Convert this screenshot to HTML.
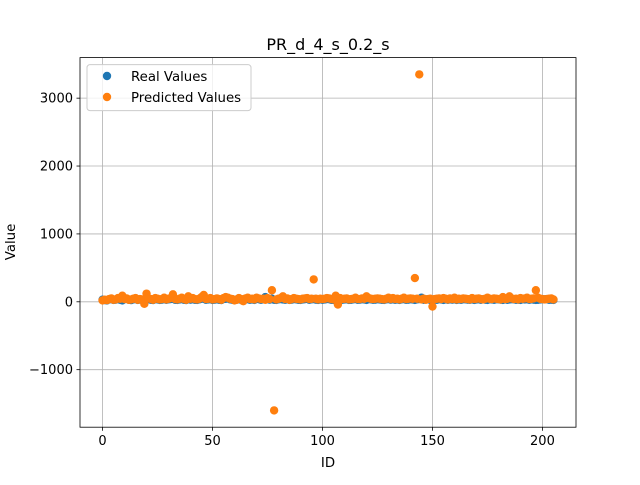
<!DOCTYPE html>
<html><head><meta charset="utf-8"><style>
body{margin:0;background:#fff;}
svg text{font-family:"DejaVu Sans","Liberation Sans",sans-serif;}
</style></head><body>
<svg id="chart" width="640" height="480" xmlns="http://www.w3.org/2000/svg">
<rect width="640" height="480" fill="#fff"/>
<g id="grid"></g>
<g id="real"></g>
<g id="pred"></g>
<rect x="80" y="57.6" width="496" height="369.6" fill="none" stroke="#000" stroke-width="0.8"/>
<g id="ticks"></g>
<text x="328" y="50" font-size="16" text-anchor="middle">PR_d_4_s_0.2_s</text>
<text x="328" y="467" font-size="13.3" text-anchor="middle">ID</text>
<text transform="translate(15,242) rotate(-90)" font-size="13.3" text-anchor="middle">Value</text>
<g>
<rect x="87" y="64.6" width="164" height="46" rx="3" fill="#fff" fill-opacity="0.8" stroke="#ccc"/>
<g><circle cx="107" cy="76" r="4.2" fill="#1f77b4"/><text x="131" y="81" font-size="13.3">Real Values</text></g>
<g><circle cx="107" cy="97" r="4.2" fill="#ff7f0e"/><text x="131" y="102" font-size="13.3">Predicted Values</text></g>
</g>
</svg>
<script>
const realValues=[30,25,20,35,40,28,32,45,30,20,38,42,30,25,36,40,28,33,30,22,45,38,30,26,40,35,28,32,44,30,36,40,50,30,28,34,42,30,26,38,32,40,30,28,36,44,48,30,34,40,28,32,38,30,26,40,45,50,36,30,28,32,38,30,24,36,40,30,34,28,42,38,30,36,70,40,32,45,30,28,36,40,34,30,38,28,32,40,36,30,28,34,38,42,30,36,40,32,28,36,30,34,40,38,30,28,36,32,40,30,34,38,28,30,36,42,30,32,38,34,28,40,36,30,32,38,34,30,28,36,40,32,38,30,34,28,36,40,30,32,38,34,28,36,40,60,30,34,38,28,32,36,30,40,34,28,38,30,36,32,40,28,34,30,38,36,32,30,40,28,34,38,30,36,32,28,40,34,30,38,36,32,28,40,30,34,38,36,30,32,28,40,34,38,30,36,32,28,30,34,38,36,40,30,32,28];
const predValues=[20,30,25,40,50,30,35,55,45,90,40,50,30,35,45,55,30,40,35,-30,120,50,40,30,55,45,35,40,60,35,45,55,110,40,35,45,60,40,30,80,45,55,40,35,45,70,100,40,45,55,35,40,50,40,30,55,70,60,45,40,20,30,55,40,10,50,60,40,45,35,60,50,40,45,30,55,40,170,-1600,35,45,55,80,40,50,30,40,55,45,40,35,45,50,55,40,45,330,45,35,45,40,45,55,50,40,35,90,-40,55,40,45,50,35,40,45,60,40,40,50,45,80,55,45,40,45,50,45,40,35,45,60,40,55,40,45,35,45,60,40,45,50,45,350,45,3350,35,45,30,40,45,-70,40,45,50,40,55,45,35,50,40,60,35,45,40,50,45,40,35,55,40,45,50,40,35,45,60,45,40,50,45,40,35,70,40,45,80,50,40,45,35,55,45,50,60,40,45,50,170,60,45,40,35,40,45,50,35];
const xMin=-10.25,xMax=215.25,yMin=-1847.5,yMax=3597.5;
const L=80,R=576,T=57.6,B=427.2;
const xs=v=>L+(v-xMin)/(xMax-xMin)*(R-L);
const ys=v=>B-(v-yMin)/(yMax-yMin)*(B-T);
const xTicks=[0,50,100,150,200];
const yTicks=[-1000,0,1000,2000,3000];
const ns="http://www.w3.org/2000/svg";
function mk(t,a,p){const e=document.createElementNS(ns,t);for(const k in a)e.setAttribute(k,a[k]);p.appendChild(e);return e;}
const grid=document.getElementById('grid'),ticks=document.getElementById('ticks');
xTicks.forEach(v=>{const x=xs(v);
 const g=mk('line',{x1:x,x2:x,y1:T,y2:B,stroke:'#b0b0b0','stroke-width':0.8},grid);
 
 
 mk('line',{x1:x,x2:x,y1:B,y2:B+3.5,stroke:'#000','stroke-width':0.8},ticks);
 const t=mk('text',{x:x,y:B+18,'font-size':13,'text-anchor':'middle'},ticks);t.textContent=v;
 
 });
yTicks.forEach(v=>{const y=ys(v);
 const g=mk('line',{x1:L,x2:R,y1:y,y2:y,stroke:'#b0b0b0','stroke-width':0.8},grid);
 
 
 mk('line',{x1:L-3.5,x2:L,y1:y,y2:y,stroke:'#000','stroke-width':0.8},ticks);
 const t=mk('text',{x:L-7,y:y+4.5,'font-size':13,'text-anchor':'end'},ticks);t.textContent=v<0?'\u2212'+(-v):v;
 
 });
const gr=document.getElementById('real'),gp=document.getElementById('pred');
realValues.forEach((v,i)=>{const c=mk('circle',{cx:xs(i),cy:ys(v),r:4.2,fill:'#1f77b4'},gr);
 
 });
predValues.forEach((v,i)=>{const c=mk('circle',{cx:xs(i),cy:ys(v),r:4.2,fill:'#ff7f0e'},gp);
 
 });
</script>
</body></html>
